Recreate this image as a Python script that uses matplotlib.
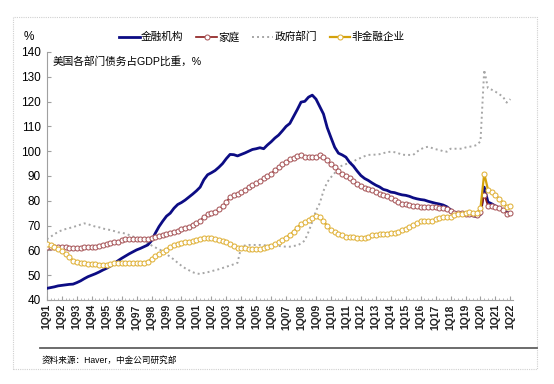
import matplotlib
matplotlib.use("Agg")
import matplotlib.pyplot as plt
from matplotlib.lines import Line2D
from matplotlib.patches import Rectangle
from matplotlib.ticker import MultipleLocator

plt.rcParams['font.family'] = ['Liberation Sans', 'Noto Sans CJK SC', 'DejaVu Sans']

years = list(range(91, 100)) + list(range(0, 23))
tick_labels = ["1Q%02d" % y for y in years]

financial = [
    44.7, 45.0, 45.3, 45.7, 45.9, 46.1, 46.3, 46.4, 47.0, 47.7, 48.6, 49.4,
    50.0, 50.6, 51.3, 52.1, 52.8, 53.7, 54.7, 55.8, 56.8, 57.7, 58.6, 59.4,
    60.2, 60.8, 61.5, 62.2, 63.9, 66.9, 69.6, 71.8, 73.8, 75.0, 77.0, 78.5,
    79.3, 80.3, 81.5, 82.7, 84.0, 85.5, 88.5, 90.5, 91.3, 92.2, 93.5, 95.0,
    97.0, 98.7, 98.6, 98.1, 98.7, 99.3, 100.0, 100.7, 101.0, 101.4, 101.0, 102.5,
    103.8, 105.3, 106.5, 108.2, 110.0, 111.2, 114.0, 116.8, 119.8, 120.1, 121.8, 122.6,
    121.0, 118.0, 115.0, 109.5, 105.5, 101.6, 99.2, 98.5, 97.6, 95.5, 94.0, 92.0,
    90.2, 89.0, 88.2, 87.2, 86.3, 85.6, 84.6, 84.2, 83.5, 83.3, 82.8, 82.4,
    82.2, 81.8, 81.2, 80.8, 80.5, 80.3, 79.8, 79.4, 79.0, 78.7, 78.3, 77.6,
    76.4, 75.3, 75.0, 74.8, 74.7, 74.4, 74.0, 73.6, 74.5, 85.5, 79.5, 78.8,
    77.9, 77.2, 76.2, 75.4, 75.0,
]

household = [
    61.2, 61.4, 61.5, 61.4, 61.3, 61.2, 61.0, 60.9, 60.8, 61.0, 61.3, 61.5,
    61.5, 61.5, 61.7, 62.0, 62.5, 62.8, 63.2, 63.5, 64.0, 64.5, 64.6, 64.6,
    64.6, 64.6, 64.5, 64.6, 65.0, 65.4, 65.8, 66.2, 66.7, 67.1, 67.5, 68.0,
    68.5, 69.0, 69.6, 70.4, 71.2, 72.0, 73.5, 74.5, 75.0, 75.6, 76.5, 77.8,
    79.5, 81.5, 82.3, 82.8, 83.5, 84.5, 85.5, 86.3, 87.2, 88.0, 89.0, 90.0,
    91.0, 92.3, 93.5, 94.8, 95.8, 96.8, 97.3, 98.0, 98.5, 97.7, 97.5, 97.5,
    97.8, 98.3, 97.5, 96.3, 95.0, 93.8, 92.0, 90.8, 89.8, 89.0, 88.0, 86.8,
    86.0, 85.2, 84.6, 84.2, 83.6, 82.8, 82.4, 81.8, 81.0, 80.3, 79.6, 78.8,
    78.6, 78.2, 77.9, 77.8, 77.6, 77.6, 77.5, 77.4, 77.3, 77.2, 77.0, 76.5,
    76.0, 75.2, 75.0, 74.9, 74.8, 74.7, 74.5, 74.3, 75.5, 82.5, 78.0, 77.9,
    77.6, 77.0, 76.3, 74.8, 75.2,
]

government = [
    64.5, 65.5, 66.5, 67.5, 68.1, 68.6, 69.0, 69.4, 69.9, 70.4, 70.9, 70.6,
    70.0, 69.6, 69.3, 68.8, 68.5, 68.2, 67.8, 67.3, 67.1, 66.8, 66.2, 65.6,
    65.1, 64.5, 63.8, 62.9, 62.0, 61.2, 60.4, 59.8, 58.5, 57.4, 56.3, 55.0,
    53.8, 52.8, 52.0, 51.2, 50.7, 50.5, 50.9, 51.2, 51.6, 52.0, 52.4, 52.9,
    53.4, 53.9, 54.4, 55.0, 61.5, 62.0, 62.2, 62.2, 62.2, 62.2, 62.1, 62.0,
    62.2, 62.2, 61.8, 61.6, 61.5, 61.5, 61.8, 62.0, 62.8, 64.0, 67.5, 71.5,
    76.0, 79.0, 84.0, 87.5, 89.5, 91.2, 93.5, 94.2, 94.8, 95.2, 95.8, 96.8,
    97.3, 98.0, 98.5, 98.6, 98.6, 98.8, 99.2, 99.6, 99.8, 99.6, 99.2, 98.6,
    98.5, 98.5, 98.5, 99.8, 100.8, 101.5, 101.8, 101.3, 100.8, 100.5, 100.0, 99.8,
    101.0, 101.0, 101.0, 101.0, 101.5, 101.8, 102.0, 102.5, 104.0, 132.8, 125.4, 124.8,
    124.0, 123.0, 122.0, 119.6, 121.0,
]

corporate = [
    62.6, 62.0, 61.3, 60.6, 59.8, 58.6, 57.3, 55.9, 55.4, 55.0, 54.8, 54.7,
    54.5, 54.4, 54.3, 54.2, 54.2, 54.5, 54.8, 54.9, 55.0, 55.0, 55.0, 54.9,
    54.8, 54.8, 55.0, 55.5, 56.5, 57.8, 58.6, 59.2, 60.3, 61.4, 62.0, 62.7,
    63.0, 63.3, 63.5, 63.8, 64.2, 64.6, 64.8, 64.9, 64.8, 64.4, 64.0, 63.6,
    63.3, 62.6, 61.8, 60.9, 60.8, 60.8, 60.6, 60.5, 60.4, 60.6, 60.9, 61.3,
    61.8, 62.5, 63.2, 64.0, 65.2, 66.2, 67.5, 69.2, 70.5, 71.3, 72.2, 73.2,
    73.9, 73.5, 71.8, 69.8, 68.3, 67.5, 66.8, 66.2, 65.6, 65.4, 65.3, 65.2,
    65.0, 65.0, 65.5, 66.1, 66.3, 66.5, 66.6, 66.8, 67.0, 67.2, 67.5, 68.2,
    68.6, 69.5, 70.3, 71.0, 71.8, 72.0, 72.0, 72.0, 72.5, 73.0, 73.3, 73.3,
    73.3, 74.2, 74.7, 74.8, 75.2, 75.3, 75.2, 75.0, 77.0, 91.0, 84.5, 83.5,
    82.3, 80.8, 79.3, 77.6, 78.0,
]

series_names = ["金融机构", "家庭", "政府部门", "非金融企业"]
title_text = "美国各部门债务占GDP比重，%"
source_text = "资料来源：Haver，中金公司研究部"

W, H = 554, 384
fig = plt.figure(figsize=(W / 100, H / 100), dpi=100)
fig.patch.set_facecolor("white")

# outer dotted border
fig.add_artist(Rectangle((12.5 / W, 1 - 369 / H), (537 - 12.5) / W, (369 - 17) / H,
                         transform=fig.transFigure, fill=False, edgecolor="#D0D0D0",
                         linestyle=(0, (1, 1)), linewidth=0.8))
# separator line
fig.add_artist(Line2D([40 / W, 537 / W], [1 - 348 / H, 1 - 348 / H],
                      transform=fig.transFigure, color="#606060", linewidth=1.3))

ax = fig.add_axes([46.5 / W, 1 - 300 / H, (513 - 46.5) / W, (300 - 52) / H])
x = list(range(len(financial)))

l1, = ax.plot(x, financial, color="#0C0C84", linewidth=2.0, label=series_names[0], zorder=3)
l2, = ax.plot(x, household, color="#8B1A1A", linewidth=1.2, marker="o", markersize=3.6,
              markerfacecolor="white", markeredgecolor="#A8575A", markeredgewidth=0.75,
              label=series_names[1], zorder=4)
l3, = ax.plot(x, government, color="#A6A6A6", linewidth=1.4, linestyle=(0, (1, 1.6)),
              label=series_names[2], zorder=2)
l4, = ax.plot(x, corporate, color="#D4A20C", linewidth=1.6, marker="o", markersize=3.6,
              markerfacecolor="white", markeredgecolor="#E0B23A", markeredgewidth=0.75,
              label=series_names[3], zorder=5)

ax.set_xlim(-0.1, 124.7)
ax.set_ylim(40, 140)
ax.set_xticks(list(range(0, 125, 4)))
ax.set_xticklabels(tick_labels, rotation=90, fontsize=7.5, fontweight="bold", color="#202020")
ax.xaxis.set_minor_locator(MultipleLocator(1))
ax.yaxis.set_major_locator(MultipleLocator(10))
ax.tick_params(axis="y", labelsize=8.5, direction="in", length=3, color="#A0A0A0", pad=4)
ax.tick_params(axis="x", which="major", direction="in", length=3, color="#A0A0A0", pad=3)
ax.tick_params(axis="x", which="minor", direction="in", length=1.2, color="#B0B0B0")
for s in ["top", "right"]:
    ax.spines[s].set_visible(False)
ax.spines["left"].set_color("#A0A0A0")
ax.spines["bottom"].set_color("#A0A0A0")
ax.spines["left"].set_linewidth(0.8)
ax.spines["bottom"].set_linewidth(0.8)

fig.text(29 / W, 1 - 37 / H, "%", fontsize=8.5, ha="center", va="center")
fig.text(53 / W, 1 - 61 / H, title_text, fontsize=7.7, ha="left", va="center")
fig.text(42 / W, 1 - 360 / H, source_text, fontsize=6.2, ha="left", va="center")

fig.legend(handles=[l1, l2, l3, l4], loc="center", bbox_to_anchor=(262 / W, 1 - 37 / H),
           ncol=4, frameon=False, fontsize=7.7, handlelength=1.9, handletextpad=0.15,
           columnspacing=1.2, borderaxespad=0, numpoints=1)

fig.savefig("out.png", dpi=100, facecolor="white")
